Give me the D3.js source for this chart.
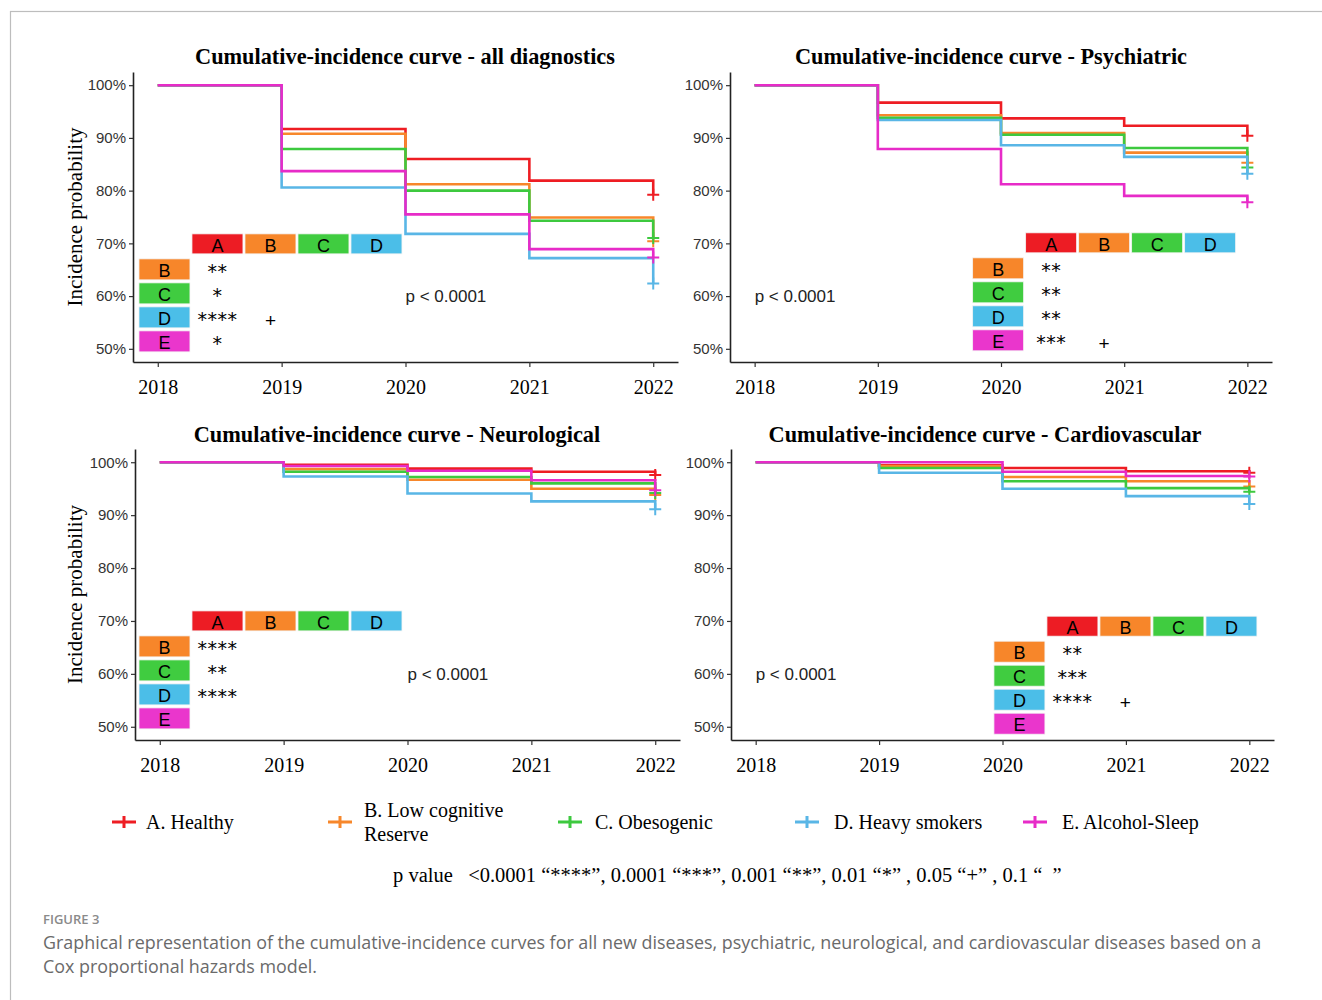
<!DOCTYPE html>
<html>
<head>
<meta charset="utf-8">
<script src="https://cdn.jsdelivr.net/npm/d3@7/dist/d3.min.js"></script>
<style>
  body { margin: 0; background: #fff; }
</style>
</head>
<body>
<svg id="chart" width="1322" height="1000"></svg>
<script>
// ---- data ----
const years = [2018, 2019, 2020, 2021, 2022];
const groups = ['A', 'B', 'C', 'D', 'E'];
const groupLabels = [['A. Healthy'], ['B. Low cognitive', 'Reserve'], ['C. Obesogenic'], ['D. Heavy smokers'], ['E. Alcohol-Sleep']];
const panelTitles = [
  'Cumulative-incidence curve - all diagnostics',
  'Cumulative-incidence curve - Psychiatric',
  'Cumulative-incidence curve - Neurological',
  'Cumulative-incidence curve - Cardiovascular'
];
const yTicks = [0.5, 0.6, 0.7, 0.8, 0.9, 1.0];
const pText = 'p < 0.0001';

// probability per group (A..E) at each year
const allDiagnostics = [
  [1, 0.917, 0.860, 0.819, 0.792],
  [1, 0.908, 0.812, 0.749, 0.704],
  [1, 0.879, 0.800, 0.743, 0.710],
  [1, 0.806, 0.718, 0.672, 0.624],
  [1, 0.837, 0.755, 0.689, 0.673]
];
const psychiatric = [
  [1, 0.967, 0.937, 0.923, 0.904],
  [1, 0.943, 0.909, 0.872, 0.853],
  [1, 0.938, 0.906, 0.881, 0.844],
  [1, 0.934, 0.886, 0.864, 0.832],
  [1, 0.879, 0.812, 0.790, 0.778]
];
const neurological = [
  [1, 0.995, 0.988, 0.982, 0.976],
  [1, 0.987, 0.967, 0.950, 0.938],
  [1, 0.982, 0.972, 0.960, 0.942],
  [1, 0.973, 0.941, 0.926, 0.911],
  [1, 0.993, 0.984, 0.966, 0.947]
];
const cardiovascular = [
  [1, 0.994, 0.989, 0.983, 0.980],
  [1, 0.993, 0.972, 0.964, 0.954],
  [1, 0.989, 0.964, 0.951, 0.944],
  [1, 0.980, 0.950, 0.936, 0.921],
  [1, 1.000, 0.982, 0.974, 0.973]
];

// pairwise significance, rows B..E against columns A..D
const sigAll = [['**'], ['*'], ['****', '+'], ['*']];
const sigPsy = [['**'], ['**'], ['**'], ['***', '+']];
const sigNeu = [['****'], ['**'], ['****'], []];
const sigCar = [['**'], ['***'], ['****', '+'], []];

const pLegend = 'p value   <0.0001 \u201c****\u201d, 0.0001 \u201c***\u201d, 0.001 \u201c**\u201d, 0.01 \u201c*\u201d , 0.05 \u201c+\u201d , 0.1 \u201c  \u201d';
const figLabel = 'FIGURE 3';
const captionLines = [
  'Graphical representation of the cumulative-incidence curves for all new diseases, psychiatric, neurological, and cardiovascular diseases based on a',
  'Cox proportional hazards model.'
];

const lineColors = ['#EE1D23', '#F7872B', '#3DC93F', '#59B6E6', '#E72BC8'];
const boxColors = ['#ED1C24', '#F7862A', '#40CC40', '#4BBEE8', '#EA36CC'];

const serif = '"Liberation Serif", "Times New Roman", serif';
const sans = '"Liberation Sans", Arial, sans-serif';

// panel frames (pixels) and where the tables / p text sit (data units)
const panels = [
  { data: allDiagnostics, sig: sigAll, title: panelTitles[0], titleX: 405, titleY: 64,
    left: 133, right: 678, top: 72, bottom: 362, yLabel: true,
    table: [2018.276, 0.718], pPos: [2020, 0.6] },
  { data: psychiatric, sig: sigPsy, title: panelTitles[1], titleX: 991, titleY: 64,
    left: 730, right: 1272, top: 72, bottom: 362, yLabel: false,
    table: [2020.2, 0.72], pPos: [2018, 0.6] },
  { data: neurological, sig: sigNeu, title: panelTitles[2], titleX: 397, titleY: 442,
    left: 135, right: 680, top: 449, bottom: 740, yLabel: true,
    table: [2018.26, 0.719], pPos: [2020, 0.6] },
  { data: cardiovascular, sig: sigCar, title: panelTitles[3], titleX: 985, titleY: 442,
    left: 731, right: 1274, top: 449, bottom: 740, yLabel: false,
    table: [2020.36, 0.709], pPos: [2018, 0.6] }
];

const svg = d3.select('#chart');

// light frame around the figure
svg.append('rect')
  .attr('x', 10.5).attr('y', 11.5)
  .attr('width', 1330).attr('height', 1000)
  .attr('fill', 'none')
  .attr('stroke', '#bdbdbd')
  .attr('stroke-width', 1.2);

panels.forEach(p => {
  const x = d3.scaleLinear().domain([2017.8, 2022.2]).range([p.left, p.right]);
  const y = d3.scaleLinear().domain([0.475, 1.025]).range([p.bottom, p.top]);
  const g = svg.append('g');

  g.append('text')
    .attr('x', p.titleX).attr('y', p.titleY)
    .attr('text-anchor', 'middle')
    .attr('font-family', serif)
    .attr('font-weight', 'bold')
    .attr('font-size', 22.3)
    .text(p.title);

  // axes
  const xAxis = g.append('g')
    .attr('transform', `translate(0,${p.bottom})`)
    .call(d3.axisBottom(x).tickValues(years).tickFormat(d3.format('d')).tickSize(5).tickSizeOuter(0).tickPadding(13));
  xAxis.selectAll('text').attr('font-family', serif).attr('font-size', 20).attr('fill', '#000');

  const yAxis = g.append('g')
    .attr('transform', `translate(${p.left},0)`)
    .call(d3.axisLeft(y).tickValues(yTicks).tickFormat(d3.format('.0%')).tickSize(4).tickSizeOuter(0).tickPadding(3));
  yAxis.selectAll('text').attr('font-family', sans).attr('font-size', 15).attr('fill', '#333');

  [xAxis, yAxis].forEach(a => {
    a.select('.domain').attr('stroke', '#222').attr('stroke-width', 1.6);
    a.selectAll('.tick line').attr('stroke', '#333').attr('stroke-width', 1.2);
  });

  if (p.yLabel) {
    const cy = (p.top + p.bottom) / 2;
    g.append('text')
      .attr('transform', `translate(82,${cy}) rotate(-90)`)
      .attr('text-anchor', 'middle')
      .attr('font-family', serif)
      .attr('font-size', 21)
      .text('Incidence probability');
  }

  // step curves, A drawn first so E ends up on top
  const line = d3.line()
    .x((d, i) => x(years[i]))
    .y(d => y(d))
    .curve(d3.curveStepAfter);

  p.data.forEach((vals, gi) => {
    g.append('path')
      .datum(vals)
      .attr('d', line)
      .attr('fill', 'none')
      .attr('stroke', lineColors[gi])
      .attr('stroke-width', 2.6);

    // censor mark at the end
    const cx = x(years[years.length - 1]);
    const cy = y(vals[vals.length - 1]);
    g.append('path')
      .attr('d', `M${cx - 6},${cy}H${cx + 6}M${cx},${cy - 6}V${cy + 6}`)
      .attr('stroke', lineColors[gi])
      .attr('stroke-width', 2);
  });

  // p value
  g.append('text')
    .attr('x', x(p.pPos[0])).attr('y', y(p.pPos[1]))
    .attr('dy', '0.35em')
    .attr('font-family', sans)
    .attr('font-size', 17)
    .attr('fill', '#222')
    .text(pText);

  // significance table
  const bw = 51, bh = 21, step = 53, rowStep = 24;
  const hx = x(p.table[0]);
  const hy = y(p.table[1]);
  const tbl = g.append('g').attr('font-family', sans);

  groups.slice(0, 4).forEach((lab, ci) => {
    tbl.append('rect')
      .attr('x', hx + ci * step).attr('y', hy)
      .attr('width', bw).attr('height', bh - 1)
      .attr('fill', boxColors[ci])
      .attr('stroke', '#f4f4f4').attr('stroke-width', 0.8);
    tbl.append('text')
      .attr('x', hx + ci * step + bw / 2).attr('y', hy + bh / 2 + 1)
      .attr('text-anchor', 'middle').attr('dy', '0.35em')
      .attr('font-size', 18)
      .text(lab);
  });

  groups.slice(1).forEach((lab, ri) => {
    const ry = hy + 25 + ri * rowStep;
    tbl.append('rect')
      .attr('x', hx - step).attr('y', ry)
      .attr('width', bw).attr('height', bh)
      .attr('fill', boxColors[ri + 1])
      .attr('stroke', '#f4f4f4').attr('stroke-width', 0.8);
    tbl.append('text')
      .attr('x', hx - step + bw / 2).attr('y', ry + bh / 2 + 1)
      .attr('text-anchor', 'middle').attr('dy', '0.35em')
      .attr('font-size', 18)
      .text(lab);

    (p.sig[ri] || []).forEach((s, ci) => {
      if (!s) return;
      const isPlus = s === '+';
      tbl.append('text')
        .attr('x', hx + ci * step + bw / 2)
        .attr('y', ry + bh / 2 + (isPlus ? 3 : 2))
        .attr('text-anchor', 'middle').attr('dy', '0.35em')
        .attr('font-family', isPlus ? sans : '"DejaVu Sans", sans-serif')
        .attr('font-size', isPlus ? 19 : 19)
        .attr('letter-spacing', isPlus ? 0 : 0.5)
        .text(s);
    });
  });
});

// legend
const legendKeyX = [124, 340, 570, 807, 1035];
const legendTextX = [146, 364, 595, 834, 1062];
const legend = svg.append('g').attr('font-family', serif).attr('font-size', 20);
groups.forEach((gname, i) => {
  const kx = legendKeyX[i], ky = 822;
  legend.append('path')
    .attr('d', `M${kx - 12},${ky}H${kx + 12}M${kx},${ky - 6}V${ky + 6}`)
    .attr('stroke', lineColors[i])
    .attr('stroke-width', 3);
  const lines = groupLabels[i];
  const t = legend.append('text')
    .attr('y', ky - (lines.length - 1) * 12);
  lines.forEach((ln, k) => {
    t.append('tspan').attr('x', legendTextX[i]).attr('dy', k === 0 ? '0.35em' : 24).text(ln);
  });
});

svg.append('text')
  .attr('x', 393).attr('y', 882)
  .attr('font-family', serif)
  .attr('font-size', 20.5)
  .attr('xml:space', 'preserve')
  .style('white-space', 'pre')
  .text(pLegend);

// caption
svg.append('text')
  .attr('x', 43).attr('y', 924)
  .attr('font-family', '"Open Sans", sans-serif')
  .attr('font-weight', 600)
  .attr('font-size', 13)
  .attr('fill', '#8a8a8a')
  .text(figLabel);

captionLines.forEach((ln, i) => {
  svg.append('text')
    .attr('x', 43).attr('y', 949 + i * 24)
    .attr('font-family', '"Open Sans", sans-serif')
    .attr('font-size', 17.9)
    .attr('fill', '#6a6a6a')
    .text(ln);
});
</script>
</body>
</html>
